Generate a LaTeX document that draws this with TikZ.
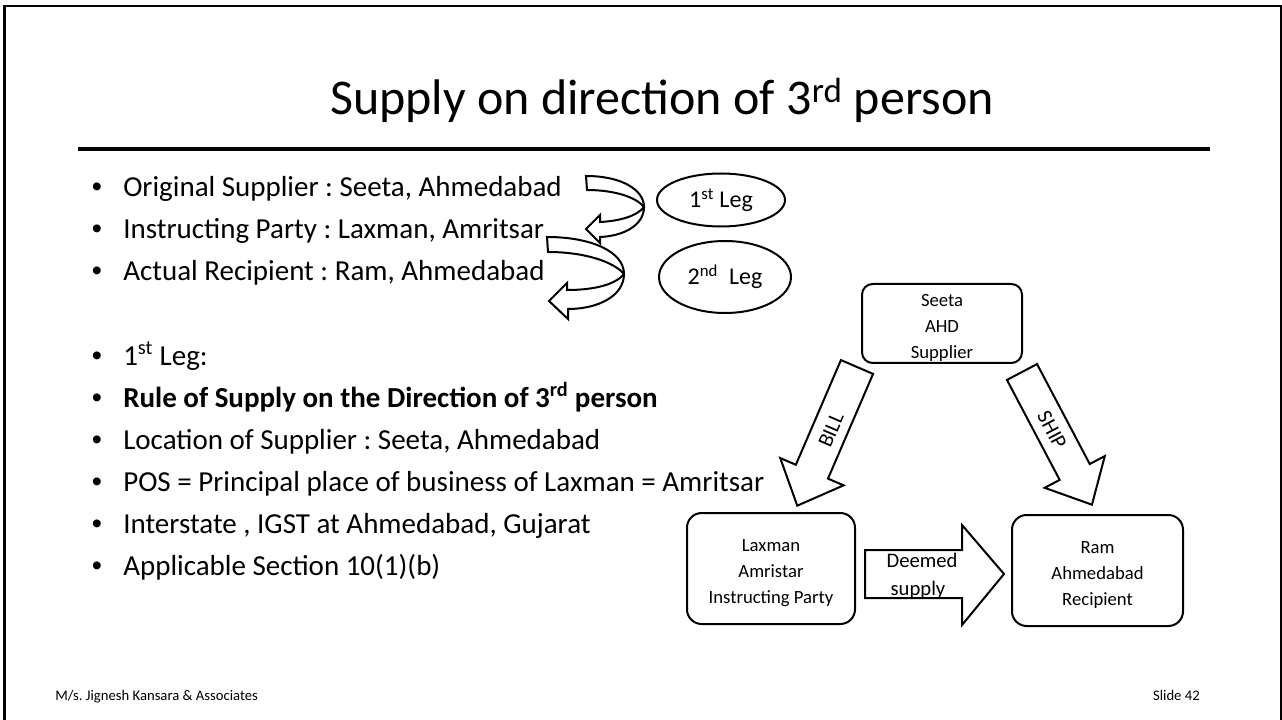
\documentclass[tikz,border=0pt]{standalone}
\usepackage{fontspec}
\setmainfont{Carlito}
\newfontfamily\dotfont{Liberation Sans}
\usetikzlibrary{shapes.geometric}
\frenchspacing
\begin{document}
\begin{tikzpicture}[x=0.75pt,y=-0.75pt,
  outline/.style={draw=black, line width=1.5pt, line join=miter},
  bodytext/.style={anchor=base west, inner sep=0pt, font=\fontsize{21.75}{26}\selectfont},
  bulletdot/.style={anchor=base, inner sep=0pt, font=\dotfont\fontsize{21.75}{26}\selectfont},
  partybox/.style={outline, rectangle, rounded corners=11pt, inner sep=0pt},
  boxtext/.style={align=center, inner sep=0pt, font=\fontsize{14}{19.5}\selectfont},
  legoval/.style={outline, ellipse, inner sep=0pt, font=\fontsize{18}{20}\selectfont},
  arrowlabel/.style={inner sep=0pt, font=\fontsize{16}{20}\selectfont},
  foottext/.style={inner sep=0pt, font=\fontsize{11}{13}\selectfont}]

\useasboundingbox (0,0) rectangle (1282,720);
\fill[white] (0,0) rectangle (1282,720);

% slide frame (top, left and right edges)
\draw[line width=2pt] (4.5,720) -- (4.5,6) -- (1281,6) -- (1281,720);

% title and rule
\node[anchor=base, inner sep=0pt, font=\fontsize{37.5}{44}\selectfont] (title) at (662,115)
  {Supply on direction of 3\textsuperscript{rd} person};
\coordinate (ruleL) at (78,149);
\coordinate (ruleR) at (1210,149);
\draw[line width=2.4pt] (ruleL) -- (ruleR);

% bullet list
\foreach \yy/\txt [count=\i] in {
  197/{Original Supplier : Seeta, Ahmedabad},
  239/{Instructing Party : Laxman, Amritsar},
  281/{Actual Recipient : Ram, Ahmedabad},
  365/{1\textsuperscript{st} Leg:},
  407/{\textbf{Rule of Supply on the Direction of 3\textsuperscript{rd} person}},
  449/{Location of Supplier : Seeta, Ahmedabad},
  491/{POS = Principal place of business of Laxman = Amritsar},
  533/{Interstate , IGST at Ahmedabad, Gujarat},
  575/{Applicable Section 10(1)(b)}} {
  \node[bulletdot] (dot\i) at (97,\yy) {\textbullet};
  \node[bodytext] (item\i) at (123,\yy) {\txt};
}

% curved arrow: first leg
\draw[outline]
  (586,176) .. controls (622,176) and (644,190) .. (644,207)
  .. controls (644,225) and (624,236) .. (600,237)
  -- (600,243) -- (586,229) -- (600,215) -- (600,222)
  .. controls (620,221) and (637,216) .. (644,207)
  .. controls (636,197) and (614,190) .. (587,190) -- cycle;

% curved arrow: second leg
\draw[outline]
  (547,237) .. controls (592,237) and (624,252) .. (624,274)
  .. controls (624,296) and (598,309) .. (568,309)
  -- (568,319) -- (549,301) -- (567,283) -- (567,290)
  .. controls (596,290) and (616,284) .. (624,274)
  .. controls (614,262) and (585,252) .. (548,252) -- cycle;

% leg labels
\node[legoval, minimum width=96pt, minimum height=39.75pt] (leg1) at (721,200)
  {1\textsuperscript{st} Leg};
\node[legoval, minimum width=99pt, minimum height=54pt] (leg2) at (725,277)
  {2\textsuperscript{nd}\ \ Leg};

% parties
\node[partybox, rounded corners=8pt, minimum width=120pt, minimum height=59.25pt] (seeta)
  at (942,323.5) {};
\node[boxtext] (seetatext) at (942,328) {Seeta\\AHD\\Supplier};
\node[partybox, minimum width=126pt, minimum height=83.25pt] (laxman)
  at (771,568.5) {};
\node[boxtext] (laxmantext) at (771,573.5) {Laxman\\Amristar\\Instructing Party};
\node[partybox, minimum width=128.25pt, minimum height=83.25pt] (ram)
  at (1097.5,570.5) {};
\node[boxtext] (ramtext) at (1097.5,575) {Ram\\Ahmedabad\\Recipient};

% BILL: block arrow from the supplier down to the instructing party
\coordinate (billtail) at (857,367);
\begin{scope}[shift={(billtail)}, rotate=-113.3]
  \draw[outline] (0,-17.5) -- (114,-17.5) -- (114,-34.5) -- (151,0)
    -- (114,34.5) -- (114,17.5) -- (0,17.5) -- cycle;
\end{scope}
\node[arrowlabel, rotate=66.7] (bill) at (831,430) {BILL};

% SHIP: block arrow from the supplier down to the recipient
\coordinate (shiptail) at (1022,372);
\begin{scope}[shift={(shiptail)}, rotate=-62.2]
  \draw[outline] (0,-17) -- (113,-17) -- (113,-34) -- (150,0)
    -- (113,34) -- (113,17) -- (0,17) -- cycle;
\end{scope}
\node[arrowlabel, rotate=-62.2] (ship) at (1052,430) {SHIP};

% deemed supply: block arrow from the instructing party to the recipient
\draw[outline] (865,550) -- (962,550) -- (962,525) -- (1004,574)
  -- (962,625) -- (962,598) -- (865,598) -- cycle;
\node[anchor=base, inner sep=0pt, font=\fontsize{15.5}{20}\selectfont] (deemed1) at (922,567) {Deemed};
\node[anchor=base, inner sep=0pt, font=\fontsize{15.5}{20}\selectfont] (deemed2) at (918,595) {supply};

% footer
\node[foottext, anchor=base west] (footL) at (55,700) {M/s. Jignesh Kansara \& Associates};
\node[foottext, anchor=base east] (footR) at (1200,700) {Slide 42};
\end{tikzpicture}
\end{document}
